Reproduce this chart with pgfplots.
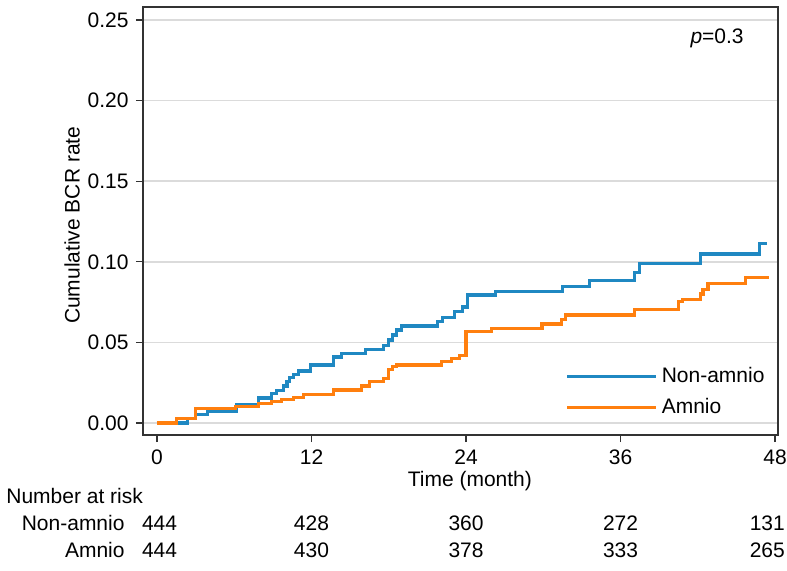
\documentclass[border=0pt]{standalone}
\usepackage{fontspec}
\setmainfont{Liberation Sans}
\usepackage{pgfplots}
\pgfplotsset{compat=1.18}
\definecolor{nonamnio}{HTML}{1F88C2}
\definecolor{amnio}{HTML}{FF7F0E}
\begin{document}
\fontsize{10.5}{12.6}\selectfont
\begin{tikzpicture}
\path[use as bounding box] (0,0) rectangle (393.5pt,285pt);
\begin{axis}[
  at={(71.5pt,67.5pt)}, anchor=south west,
  scale only axis, width=317.5pt, height=214pt,
  xmin=-1.087, xmax=48.23, ymin=-0.00744, ymax=0.258,
  xtick={0,12,24,36,48},
  ytick={0,0.05,0.1,0.15,0.2,0.25},
  yticklabels={0.00,0.05,0.10,0.15,0.20,0.25},
  ymajorgrids, grid style={draw=black!14, line width=0.75pt},
  tick align=outside, xtick pos=bottom, ytick pos=left,
  major tick length=3.5pt,
  tick style={black!80, line width=0.6pt},
  axis line style={black!80, line width=0.8pt},
  tick label style={font=\fontsize{10.5}{12.6}\selectfont, text=black},
  /pgf/number format/assume math mode=true,
  clip=false,
  legend cell align=left,
  legend style={at={(axis cs:31.7,0.0192)}, anchor=west, draw=none, fill=none,
    inner sep=0pt, row sep=2.5pt, font=\fontsize{10.5}{12.6}\selectfont},
  legend image code/.code={\draw[#1, line width=1.6pt] (0pt,0pt) -- (38.5pt,0pt);
    \path (0pt,0pt) -- (44.5pt,0pt);},
]
\addplot[const plot, color=nonamnio, line width=1.6pt] coordinates {
(0,0) (2.4,0.003) (3.0,0.0055) (3.9,0.0075) (6.2,0.0115) (7.9,0.0155)
(8.9,0.0182) (9.3,0.020) (9.8,0.023) (10.1,0.0256) (10.3,0.028) (10.6,0.030)
(11.0,0.0323) (11.9,0.036) (13.7,0.041) (14.3,0.043) (16.2,0.0457) (17.6,0.048)
(17.96,0.0515) (18.3,0.0546) (18.6,0.0577) (19.0,0.0602) (21.8,0.0628)
(22.2,0.0653) (23.1,0.069) (23.7,0.072) (24.1,0.0794) (26.3,0.0815)
(31.5,0.0846) (33.6,0.0883) (37.1,0.0932) (37.5,0.0988) (42.2,0.1048)
(46.8,0.1115) (47.4,0.1115)
};
\addlegendentry{Non-amnio}
\addplot[const plot, color=amnio, line width=1.6pt] coordinates {
(0,0) (1.5,0.0027) (3.0,0.0091) (6.1,0.0102) (7.9,0.012) (8.9,0.0135)
(9.7,0.0145) (10.6,0.016) (11.4,0.0177) (13.7,0.0205) (15.9,0.023)
(16.5,0.0256) (17.6,0.0277) (18.0,0.033) (18.3,0.0352) (18.6,0.036)
(22.1,0.038) (22.9,0.040) (23.5,0.042) (24.0,0.0567) (26.0,0.0587)
(29.9,0.0614) (31.4,0.0643) (31.7,0.067) (37.1,0.0705) (40.5,0.0752)
(40.8,0.0767) (42.2,0.080) (42.4,0.083) (42.8,0.0867) (45.7,0.090) (47.5,0.090)
};
\addlegendentry{Amnio}
\node at (axis cs:43.5,0.2388) {\textit{p}=0.3};
\node at (axis description cs:-0.1118,0.49) [rotate=90] {Cumulative BCR rate};
\node at (axis cs:24.3,-0.036) {Time (month)};
\node[anchor=west, inner sep=0pt] at (axis cs:-11.73,-0.0453) {Number at risk};
\node[anchor=east, inner sep=0pt] at (axis cs:-2.49,-0.062) {Non-amnio};
\node[anchor=east, inner sep=0pt] at (axis cs:-2.49,-0.0788) {Amnio};
\node at (axis cs:0.2,-0.062) {444};
\node at (axis cs:12,-0.062) {428};
\node at (axis cs:24,-0.062) {360};
\node at (axis cs:36,-0.062) {272};
\node at (axis cs:47.4,-0.062) {131};
\node at (axis cs:0.2,-0.0788) {444};
\node at (axis cs:12,-0.0788) {430};
\node at (axis cs:24,-0.0788) {378};
\node at (axis cs:36,-0.0788) {333};
\node at (axis cs:47.4,-0.0788) {265};
\end{axis}
\end{tikzpicture}
\end{document}
